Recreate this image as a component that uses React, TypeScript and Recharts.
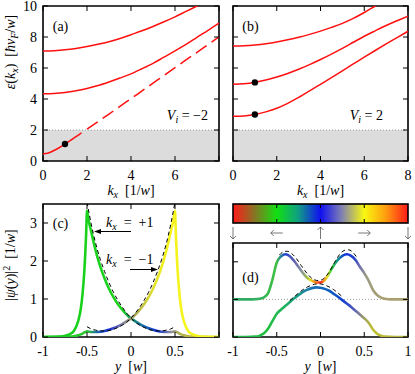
import React from 'react';
import {
  ComposedChart,
  Line,
  Scatter,
  XAxis,
  YAxis,
  ReferenceArea,
  ReferenceLine,
} from 'recharts';

const FONT = "'Liberation Serif', 'DejaVu Serif', serif";
const FS = 14;
const TXT = { fontFamily: FONT, fontSize: FS };

// (a), (b): subband dispersion eps(k_x) in units of hbar v_F / w
const kx = [0, 0.5, 1, 1.5, 2, 2.5, 3, 3.5, 4, 4.5, 5, 5.5, 6, 6.5, 7, 7.5, 8];
const aBand2 = [4.34, 4.36, 4.42, 4.53, 4.68, 4.87, 5.1, 5.35, 5.62, 5.95, 6.3, 6.7, 7.1, 7.52, 7.98, 8.43, 8.9];
const aBand3 = [7.1, 7.12, 7.17, 7.26, 7.38, 7.53, 7.7, 7.9, 8.15, 8.4, 8.68, 8.98, 9.3, 9.65, 10.0, 10.35, 10.7];
const aEdgeKx = [0, 0.25, 0.5, 0.75, 1, 1.25, 1.5, 1.75];
const aEdge = [0.46, 0.52, 0.68, 0.87, 1.1, 1.33, 1.57, 1.81];
const aEdgeDashKx = [2, 2.5, 3, 3.5, 4, 4.5, 5, 5.5, 6, 6.5, 7, 7.5, 8];
const aEdgeDash = [2.05, 2.54, 3.03, 3.53, 4.02, 4.52, 5.02, 5.52, 6.02, 6.52, 7.01, 7.51, 8.01];
const bBand1 = [2.88, 2.91, 3.0, 3.17, 3.4, 3.72, 4.1, 4.52, 4.95, 5.38, 5.82, 6.26, 6.7, 7.13, 7.55, 7.96, 8.37];
const bBand2 = [4.95, 4.98, 5.07, 5.22, 5.42, 5.65, 5.92, 6.22, 6.55, 6.9, 7.27, 7.66, 8.05, 8.4, 8.74, 9.05, 9.35];
const bBand3 = [7.42, 7.44, 7.49, 7.57, 7.68, 7.82, 7.98, 8.17, 8.38, 8.62, 8.88, 9.2, 9.58, 10.0, 10.42, 10.85, 11.3];
const aDotKx = [1];
const aDotEps = [1.1];
const bDotKx = [1, 1];
const bDotEps = [3.0, 5.07];
const kTicks = [0, 2, 4, 6, 8];
const epsTicks = [0, 2, 4, 6, 8, 10];

// (c): |psi(y)|^2 for k_x = +1 and -1
const yC = [-1, -0.9, -0.8, -0.75, -0.7, -0.65, -0.6, -0.57, -0.55, -0.53, -0.51, -0.5, -0.48, -0.45, -0.4, -0.35, -0.3, -0.25, -0.2, -0.15, -0.1, -0.05, 0, 0.05, 0.1, 0.15, 0.2, 0.25, 0.3, 0.35, 0.4, 0.45, 0.48, 0.5, 0.51, 0.53, 0.55, 0.57, 0.6, 0.65, 0.7, 0.75, 0.8, 0.9, 1];
const cPlus = [0, 0.003, 0.015, 0.035, 0.07, 0.16, 0.42, 0.75, 1.15, 1.75, 2.7, 3.32, 3.05, 2.75, 2.26, 1.86, 1.54, 1.27, 1.05, 0.87, 0.72, 0.59, 0.49, 0.41, 0.34, 0.28, 0.23, 0.19, 0.16, 0.14, 0.13, 0.13, 0.14, 0.15, 0.14, 0.12, 0.09, 0.07, 0.045, 0.02, 0.01, 0.005, 0.003, 0, 0];
const cMinus = [0, 0, 0.003, 0.005, 0.01, 0.02, 0.045, 0.07, 0.09, 0.12, 0.14, 0.15, 0.14, 0.13, 0.13, 0.14, 0.16, 0.19, 0.23, 0.28, 0.34, 0.41, 0.49, 0.59, 0.72, 0.87, 1.05, 1.27, 1.54, 1.86, 2.26, 2.75, 3.05, 3.32, 2.7, 1.75, 1.15, 0.75, 0.42, 0.16, 0.07, 0.035, 0.015, 0.003, 0];
const yCfit = [-0.5, -0.45, -0.4, -0.35, -0.3, -0.25, -0.2, -0.15, -0.1, -0.05, 0, 0.05, 0.1, 0.15, 0.2, 0.25, 0.3, 0.35, 0.4, 0.45, 0.5];
const cPlusFit = [3.55, 2.95, 2.45, 2.05, 1.72, 1.43, 1.18, 0.97, 0.79, 0.63, 0.5, 0.39, 0.31, 0.25, 0.2, 0.17, 0.16, 0.16, 0.18, 0.21, 0.27];
const cMinusFit = [0.27, 0.21, 0.18, 0.16, 0.16, 0.17, 0.2, 0.25, 0.31, 0.39, 0.5, 0.63, 0.79, 0.97, 1.18, 1.43, 1.72, 2.05, 2.45, 2.95, 3.55];
const psiTicks = [0, 1, 2, 3];
const yTicks = [-1, -0.5, 0, 0.5, 1];

// (d): the two states of (b) at k_x = 1, upper one shifted by 1
const yD = [-1, -0.9, -0.8, -0.75, -0.7, -0.65, -0.6, -0.55, -0.5, -0.45, -0.4, -0.35, -0.3, -0.25, -0.2, -0.15, -0.1, -0.05, 0, 0.05, 0.1, 0.15, 0.2, 0.25, 0.3, 0.35, 0.4, 0.45, 0.5, 0.55, 0.6, 0.65, 0.7, 0.75, 0.8, 0.9, 1];
const dUpper = [1, 1, 1, 1.005, 1.015, 1.05, 1.16, 1.52, 1.98, 2.15, 2.2, 2.15, 2.02, 1.86, 1.7, 1.57, 1.5, 1.45, 1.45, 1.52, 1.7, 1.9, 2.06, 2.16, 2.2, 2.16, 2.05, 1.87, 1.7, 1.5, 1.25, 1.11, 1.04, 1.01, 1, 1, 1];
const dLower = [0, 0, 0.005, 0.01, 0.03, 0.09, 0.22, 0.42, 0.62, 0.73, 0.83, 0.93, 1.03, 1.12, 1.2, 1.26, 1.3, 1.32, 1.31, 1.28, 1.23, 1.15, 1.07, 0.98, 0.89, 0.8, 0.7, 0.6, 0.5, 0.38, 0.2, 0.08, 0.03, 0.01, 0.005, 0, 0];
const yDupFit = [-0.47, -0.42, -0.38, -0.33, -0.28, -0.22, -0.15, -0.08, -0.02, 0.04, 0.1, 0.16, 0.22, 0.27, 0.32, 0.37, 0.42];
const dUpperFit = [2.18, 2.27, 2.28, 2.22, 2.1, 1.9, 1.68, 1.53, 1.5, 1.56, 1.73, 1.98, 2.2, 2.3, 2.32, 2.25, 2.1];
const yDlowFit = [-0.35, -0.3, -0.25, -0.2, -0.15, -0.1, -0.05, 0, 0.05, 0.1, 0.15, 0.2, 0.25];
const dLowerFit = [0.97, 1.07, 1.17, 1.26, 1.33, 1.38, 1.41, 1.41, 1.38, 1.33, 1.26, 1.17, 1.07];
const dTicks = [0, 1, 2];

const pts = (xs: number[], ys: number[]) => xs.map((x, i) => ({ x, y: ys[i] }));

const xTick = (h: number, labelled: number[]) => (p: any) => {
  const v = p.payload.value;
  return (
    <g>
      <line x1={p.x} x2={p.x} y1={p.y} y2={p.y - 5} stroke="#000" />
      <line x1={p.x} x2={p.x} y1={p.y - h} y2={p.y - h + 5} stroke="#000" />
      {labelled.includes(v) && (
        <text x={p.x} y={p.y + 19} textAnchor="middle" style={TXT} fill="#000">
          {String(v)}
        </text>
      )}
    </g>
  );
};

const yTick = (w: number, labelled: number[]) => (p: any) => {
  const v = p.payload.value;
  return (
    <g>
      <line x1={p.x} x2={p.x + 5} y1={p.y} y2={p.y} stroke="#000" />
      <line x1={p.x + w} x2={p.x + w - 5} y1={p.y} y2={p.y} stroke="#000" />
      {labelled.includes(v) && (
        <text x={p.x - 6} y={p.y + 5} textAnchor="end" style={TXT} fill="#000">
          {String(v)}
        </text>
      )}
    </g>
  );
};

const dot = (p: any) => <circle cx={p.cx} cy={p.cy} r={3.2} fill="#000" />;

const RED = '#ff1010';

const Grad = ({ id, stops }: { id: string; stops: [number, string][] }) => (
  <linearGradient id={id} x1="0" y1="0" x2="1" y2="0">
    {stops.map(([o, c], i) => (
      <stop key={i} offset={o} stopColor={c} />
    ))}
  </linearGradient>
);

const DispersionPanel = ({
  left, width, rightMargin, yAxisWidth, labelled, yLabelled, bands, solidEdge, dashEdge, dots,
}: any) => (
  <div style={{ position: 'absolute', left, top: 0 }}>
    <ComposedChart width={width} height={200} margin={{ top: 6, right: rightMargin, bottom: 0, left: 0 }}>
      <XAxis type="number" dataKey="x" domain={[0, 8]} ticks={kTicks} interval={0} allowDataOverflow
        axisLine={false} tickLine={false} tickSize={0} tickMargin={0} height={39}
        tick={xTick(155, labelled)} />
      <YAxis type="number" dataKey="y" domain={[0, 10]} ticks={epsTicks} interval={0} allowDataOverflow
        axisLine={false} tickLine={false} tickSize={0} tickMargin={0} width={yAxisWidth}
        tick={yTick(width - rightMargin - yAxisWidth, yLabelled)} />
      <ReferenceArea x1={0} x2={8} y1={0} y2={2} fill="#dcdcdc" fillOpacity={1} stroke="none" />
      <ReferenceLine y={2} stroke="#888" strokeDasharray="1 2" strokeWidth={0.8} />
      {bands.map((b: number[], i: number) => (
        <Line key={i} data={pts(kx, b)} dataKey="y" type="monotone" stroke={RED} strokeWidth={1.5}
          dot={false} isAnimationActive={false} />
      ))}
      {solidEdge && (
        <Line data={solidEdge} dataKey="y" type="monotone" stroke={RED} strokeWidth={1.5}
          dot={false} isAnimationActive={false} />
      )}
      {dashEdge && (
        <Line data={dashEdge} dataKey="y" type="monotone" stroke={RED} strokeWidth={1.5}
          strokeDasharray="13 6" dot={false} isAnimationActive={false} />
      )}
      <Scatter data={dots} dataKey="y" shape={dot} isAnimationActive={false} />
      <ReferenceArea x1={0} x2={8} y1={0} y2={10} fill="none" stroke="#000" strokeWidth={1.6} />
    </ComposedChart>
  </div>
);

const Sub = ({ children }: { children: React.ReactNode }) => (
  <tspan fontStyle="italic" style={{ fontSize: 10 }} dy={3}>{children}</tspan>
);

const KxText = ({ x, y }: any) => (
  <text x={x} y={y} textAnchor="middle" style={TXT}>
    <tspan fontStyle="italic">k</tspan>
    <Sub>x</Sub>
    <tspan dy={-3}>{'\u2002[1/'}</tspan>
    <tspan fontStyle="italic">w</tspan>]
  </text>
);

const YwText = ({ x, y }: any) => (
  <text x={x} y={y} textAnchor="middle" style={TXT}>
    <tspan fontStyle="italic">y</tspan>
    {'\u2002['}
    <tspan fontStyle="italic">w</tspan>]
  </text>
);

// thin gray arrow with open head, (x, y) is the centre
const Arrow = ({ x, y, dir }: { x: number; y: number; dir: 'l' | 'r' | 'u' | 'd' }) => {
  const L = 6;
  const h = 3;
  let d = '';
  if (dir === 'l') d = `M${x + L},${y}H${x - L}M${x - L + h},${y - h}L${x - L},${y}L${x - L + h},${y + h}`;
  if (dir === 'r') d = `M${x - L},${y}H${x + L}M${x + L - h},${y - h}L${x + L},${y}L${x + L - h},${y + h}`;
  if (dir === 'u') d = `M${x},${y + L}V${y - L}M${x - h},${y - L + h}L${x},${y - L}L${x + h},${y - L + h}`;
  if (dir === 'd') d = `M${x},${y - L}V${y + L}M${x - h},${y + L - h}L${x},${y + L}L${x + h},${y + L - h}`;
  return <path d={d} stroke="#555" strokeWidth={0.8} fill="none" />;
};

const Overlay = () => {
  const cbX = 233;
  const cbW = 175;
  const marks = [0, 0.25, 0.5, 0.75, 1];
  const dirs: ('l' | 'r' | 'u' | 'd')[] = ['d', 'l', 'u', 'r', 'd'];
  return (
    <svg width={415} height={374} style={{ position: 'absolute', left: 0, top: 0, pointerEvents: 'none' }}>
      <defs>
        <Grad id="cbar" stops={[[0, '#ff1a1a'], [0.12, '#8a7224'], [0.25, '#12e012'], [0.37, '#10a082'], [0.5, '#1010f0'], [0.62, '#7f7fb4'], [0.75, '#f8f810'], [0.87, '#ffa010'], [1, '#ff1a1a']]} />
      </defs>
      {/* axis titles */}
      <text transform="rotate(-90 15 52)" x={15} y={52} textAnchor="middle" style={TXT}>
        <tspan fontStyle="italic">ε</tspan>(<tspan fontStyle="italic">k</tspan>
        <Sub>x</Sub>
        <tspan dy={-3}>)</tspan>{'\u2002['}<tspan fontStyle="italic">ħv</tspan>
        <Sub>F</Sub>
        <tspan dy={-3}>/</tspan>
        <tspan fontStyle="italic">w</tspan>]
      </text>
      <text transform="rotate(-90 15 265)" x={15} y={265} textAnchor="middle" style={TXT}>
        |<tspan fontStyle="italic">ψ</tspan>(<tspan fontStyle="italic">y</tspan>)|
        <tspan style={{ fontSize: 10 }} dy={-5}>2</tspan>
        <tspan dy={5}>{'\u2002[1/'}</tspan>
        <tspan fontStyle="italic">w</tspan>]
      </text>
      <KxText x={131} y={195} />
      <KxText x={320.5} y={195} />
      <YwText x={131} y={371} />
      <YwText x={320.5} y={371} />

      {/* panel tags */}
      <text x={60.5} y={31} textAnchor="middle" style={TXT}>(a)</text>
      <text x={250.5} y={31} textAnchor="middle" style={TXT}>(b)</text>
      <text x={60.5} y={228} textAnchor="middle" style={TXT}>(c)</text>
      <text x={250.5} y={282} textAnchor="middle" style={TXT}>(d)</text>

      <text x={208} y={120} textAnchor="end" style={TXT}>
        <tspan fontStyle="italic">V</tspan>
        <Sub>i</Sub>
        <tspan dy={-3}>{' = \u22122'}</tspan>
      </text>
      <text x={383} y={120} textAnchor="end" style={TXT}>
        <tspan fontStyle="italic">V</tspan>
        <Sub>i</Sub>
        <tspan dy={-3}>{' = 2'}</tspan>
      </text>

      {/* k_x annotations in (c) */}
      <text x={106} y={227} style={TXT}>
        <tspan fontStyle="italic">k</tspan>
        <Sub>x</Sub>
        <tspan dy={-3}>{'\u2002=\u2002+1'}</tspan>
      </text>
      <line x1={131} y1={231.5} x2={99} y2={231.5} stroke="#000" strokeWidth={1} />
      <polygon points="94,231.5 101,229 101,234" fill="#000" />
      <text x={106} y={264} style={TXT}>
        <tspan fontStyle="italic">k</tspan>
        <Sub>x</Sub>
        <tspan dy={-3}>{'\u2002=\u2002\u22121'}</tspan>
      </text>
      <line x1={130} y1={269.5} x2={153} y2={269.5} stroke="#000" strokeWidth={1} />
      <polygon points="158,269.5 151,267 151,272" fill="#000" />

      {/* colour bar for k_x */}
      <rect x={cbX} y={204} width={cbW} height={19} fill="url(#cbar)" stroke="#000" strokeWidth={1.6} />
      {marks.slice(1, 4).map((m) => (
        <g key={m}>
          <line x1={cbX + m * cbW} x2={cbX + m * cbW} y1={204} y2={208} stroke="#000" />
          <line x1={cbX + m * cbW} x2={cbX + m * cbW} y1={223} y2={219} stroke="#000" />
        </g>
      ))}
      {marks.map((m, i) => (
        <Arrow key={m} x={cbX + m * cbW} y={233} dir={dirs[i]} />
      ))}
    </svg>
  );
};

export default function App() {
  return (
    <div style={{ position: 'fixed', left: 0, top: 0, width: 415, height: 374, background: '#fff', overflow: 'hidden', fontFamily: FONT }}>
      <DispersionPanel
        left={0} width={230} rightMargin={11} yAxisWidth={43}
        labelled={[0, 2, 4, 6]} yLabelled={epsTicks}
        bands={[aBand2, aBand3]}
        solidEdge={pts(aEdgeKx, aEdge)} dashEdge={pts(aEdgeDashKx, aEdgeDash)}
        dots={pts(aDotKx, aDotEps)}
      />
      <DispersionPanel
        left={200} width={215} rightMargin={7} yAxisWidth={33}
        labelled={kTicks} yLabelled={[]}
        bands={[bBand1, bBand2, bBand3]}
        dots={pts(bDotKx, bDotEps)}
      />

      {/* (c) */}
      <div style={{ position: 'absolute', left: 0, top: 190 }}>
        <ComposedChart width={230} height={184} margin={{ top: 14, right: 11, bottom: 0, left: 0 }}>
          <defs>
            <Grad id="gPlus" stops={[[0, '#14d018'], [0.45, '#1ed21e'], [0.5, '#1a9c6e'], [0.57, '#1466a6'], [0.65, '#1434d2'], [0.72, '#8686a4'], [0.78, '#b4b448'], [1, '#c8c828']]} />
            <Grad id="gMinus" stops={[[0, '#14d018'], [0.25, '#2cc830'], [0.31, '#1a64b0'], [0.38, '#1c30d4'], [0.45, '#8282a2'], [0.52, '#a4a456'], [0.6, '#d6d632'], [0.7, '#f4f41c'], [1, '#f4f41c']]} />
          </defs>
          <XAxis type="number" dataKey="x" domain={[-1, 1]} ticks={yTicks} interval={0} allowDataOverflow
            axisLine={false} tickLine={false} tickSize={0} tickMargin={0} height={37}
            tick={xTick(133, [-1, -0.5, 0, 0.5])} />
          <YAxis type="number" dataKey="y" domain={[0, 3.5]} ticks={psiTicks} interval={0} allowDataOverflow
            axisLine={false} tickLine={false} tickSize={0} tickMargin={0} width={43}
            tick={yTick(176, psiTicks)} />
          <Line data={pts(yC, cPlus)} dataKey="y" type="monotone" stroke="url(#gPlus)" strokeWidth={2.6}
            dot={false} isAnimationActive={false} />
          <Line data={pts(yC, cMinus)} dataKey="y" type="monotone" stroke="url(#gMinus)" strokeWidth={2.6}
            dot={false} isAnimationActive={false} />
          <Line data={pts(yCfit, cPlusFit)} dataKey="y" type="monotone" stroke="#000" strokeWidth={1}
            strokeDasharray="4 3" dot={false} isAnimationActive={false} />
          <Line data={pts(yCfit, cMinusFit)} dataKey="y" type="monotone" stroke="#000" strokeWidth={1}
            strokeDasharray="4 3" dot={false} isAnimationActive={false} />
          <ReferenceArea x1={-1} x2={1} y1={0} y2={3.5} fill="none" stroke="#000" strokeWidth={1.6} />
        </ComposedChart>
      </div>

      {/* (d) */}
      <div style={{ position: 'absolute', left: 200, top: 190 }}>
        <ComposedChart width={215} height={184} margin={{ top: 53, right: 7, bottom: 0, left: 0 }}>
          <defs>
            <Grad id="gUp" stops={[[0, '#30a868'], [0.15, '#32b05e'], [0.25, '#40c040'], [0.275, '#2080a0'], [0.3, '#2040d0'], [0.35, '#6060b0'], [0.39, '#8890a0'], [0.425, '#a0c040'], [0.44, '#e0e020'], [0.47, '#ff8010'], [0.5, '#ff2020'], [0.52, '#ff9010'], [0.54, '#e0e020'], [0.56, '#40d030'], [0.6, '#109090'], [0.64, '#1030e0'], [0.69, '#2040d0'], [0.725, '#7070b0'], [0.76, '#9a9a80'], [0.85, '#a8a070'], [1, '#a8a070']]} />
            <Grad id="gLow" stops={[[0, '#20b050'], [0.2, '#22c040'], [0.3, '#20b060'], [0.375, '#1a9a8a'], [0.45, '#1870b0'], [0.55, '#1060c0'], [0.625, '#1040d0'], [0.675, '#4050c0'], [0.71, '#7070a8'], [0.75, '#a0a060'], [0.8, '#c0c030'], [1, '#b0b040']]} />
          </defs>
          <XAxis type="number" dataKey="x" domain={[-1, 1]} ticks={yTicks} interval={0} allowDataOverflow
            axisLine={false} tickLine={false} tickSize={0} tickMargin={0} height={37}
            tick={xTick(94, yTicks)} />
          <YAxis type="number" dataKey="y" domain={[0, 2.5]} ticks={dTicks} interval={0} allowDataOverflow
            axisLine={false} tickLine={false} tickSize={0} tickMargin={0} width={33}
            tick={yTick(175, [])} />
          <ReferenceLine y={1} stroke="#888" strokeDasharray="1 2" strokeWidth={0.8} />
          <Line data={pts(yD, dUpper)} dataKey="y" type="monotone" stroke="url(#gUp)" strokeWidth={2.6}
            dot={false} isAnimationActive={false} />
          <Line data={pts(yD, dLower)} dataKey="y" type="monotone" stroke="url(#gLow)" strokeWidth={2.6}
            dot={false} isAnimationActive={false} />
          <Line data={pts(yDupFit, dUpperFit)} dataKey="y" type="monotone" stroke="#000" strokeWidth={1}
            strokeDasharray="4 3" dot={false} isAnimationActive={false} />
          <Line data={pts(yDlowFit, dLowerFit)} dataKey="y" type="monotone" stroke="#000" strokeWidth={1}
            strokeDasharray="4 3" dot={false} isAnimationActive={false} />
          <ReferenceArea x1={-1} x2={1} y1={0} y2={2.5} fill="none" stroke="#000" strokeWidth={1.6} />
        </ComposedChart>
      </div>

      <Overlay />
    </div>
  );
}
